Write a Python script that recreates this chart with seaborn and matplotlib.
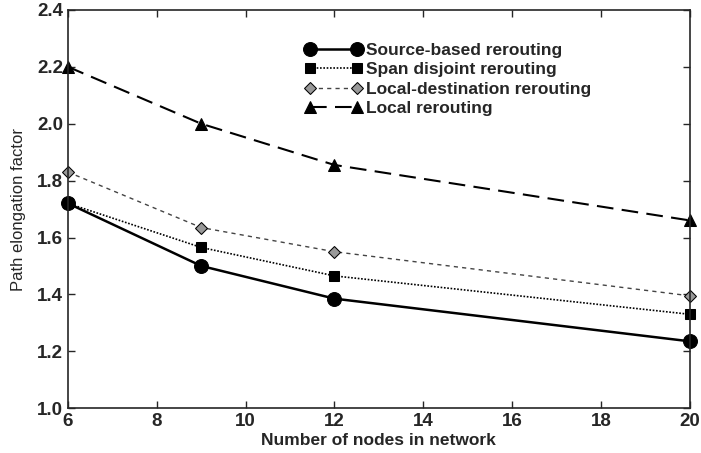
import matplotlib
matplotlib.use("Agg")
import matplotlib.pyplot as plt
import seaborn as sns
import pandas as pd

nodes = [6, 9, 12, 20]
source_based = [1.72, 1.50, 1.385, 1.235]
span_disjoint = [1.72, 1.565, 1.465, 1.33]
local_destination = [1.83, 1.635, 1.55, 1.395]
local_rerouting = [2.20, 2.00, 1.855, 1.66]
series_names = ["Source-based rerouting", "Span disjoint rerouting",
                "Local-destination rerouting", "Local rerouting"]
x_ticks = [6, 8, 10, 12, 14, 16, 18, 20]
y_ticks = [1.0, 1.2, 1.4, 1.6, 1.8, 2.0, 2.2, 2.4]

sns.set_style("ticks")
plt.rcParams['font.family'] = ['Liberation Sans', 'DejaVu Sans']

df = pd.DataFrame({
    "x": nodes * 4,
    "y": source_based + span_disjoint + local_destination + local_rerouting,
    "series": sum([[n] * len(nodes) for n in series_names], []),
})

fig = plt.figure(figsize=(7.01, 4.53), dpi=100)
ax = fig.add_axes([0.097, 0.099, 0.887, 0.879])

styles = {
    series_names[0]: dict(ls="-", marker="o", ms=10, lw=1.8, color="black", mfc="black"),
    series_names[1]: dict(ls=(0, (1, 1)), marker="s", ms=7, lw=1.2, color="black", mfc="black"),
    series_names[2]: dict(ls=(0, (3, 3)), marker="D", ms=6, lw=1.0, color="#444444", mfc="#999999"),
    series_names[3]: dict(ls=(0, (8, 4)), marker="^", ms=8, lw=1.5, color="black", mfc="black"),
}
for name in series_names:
    sub = df[df.series == name]
    st = styles[name]
    sns.lineplot(data=sub, x="x", y="y", ax=ax, label=name, color=st["color"],
                 linestyle=st["ls"], marker=st["marker"], markersize=st["ms"],
                 linewidth=st["lw"], markerfacecolor=st["mfc"], markeredgecolor="black",
                 clip_on=False)

ax.set_xlim(6, 20)
ax.set_ylim(1.0, 2.4)
ax.set_xticks(x_ticks)
ax.set_yticks(y_ticks)
ax.set_yticklabels([f"{v:.1f}" for v in y_ticks])
ax.tick_params(direction="in", length=5, width=1, labelsize=13.5, top=True, right=True)
for lab in ax.get_xticklabels() + ax.get_yticklabels():
    lab.set_fontweight("bold")
for sp in ax.spines.values():
    sp.set_visible(True)
    sp.set_linewidth(1.2)
ax.set_xlabel("Number of nodes in network", fontsize=12.5, fontweight="bold", labelpad=2)
ax.set_ylabel("Path elongation factor", fontsize=12, labelpad=8)

leg = ax.legend(loc="upper left", bbox_to_anchor=(0.37, 0.935), frameon=False,
                prop=dict(size=12.5, weight="bold"), handlelength=3.3, numpoints=2,
                labelspacing=0.25, handletextpad=0.2, borderaxespad=0)

fig.savefig("out.png", dpi=100)
